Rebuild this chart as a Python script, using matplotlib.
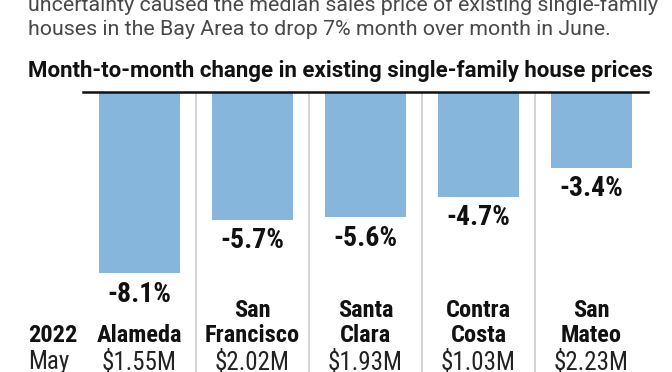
import matplotlib
matplotlib.use('Agg')
import matplotlib.pyplot as plt
import matplotlib.transforms as mtransforms
import numpy as np

# data
counties_top = ['', 'San', 'Santa', 'Contra', 'San']
counties_bottom = ['Alameda', 'Francisco', 'Clara', 'Costa', 'Mateo']
changes = [-8.1, -5.7, -5.6, -4.7, -3.4]
may_prices = ['$1.55M', '$2.02M', '$1.93M', '$1.03M', '$2.23M']

intro_lines = [
    'uncertainty caused the median sales price of existing single-family',
    'houses in the Bay Area to drop 7% month over month in June.',
]
heading = 'Month-to-month change in existing single-family house prices'

sans = ['Roboto Condensed', 'Roboto', 'DejaVu Sans']
body = ['Roboto', 'DejaVu Sans']
W, H = 672, 372

fig = plt.figure(figsize=(W / 100, H / 100), dpi=100)
fig.patch.set_facecolor('white')
renderer = fig.canvas.get_renderer()


def fit_group(texts, sample, target_px):
    # the reference uses a condensed face; size the group so one sample matches its width
    w = sample.get_window_extent(renderer).width
    k = target_px / w
    for t in texts:
        t.set_fontsize(t.get_fontsize() * k)


# intro + heading
intro = [
    fig.text(28 / W, 1 - 11 / H, intro_lines[0], family=body,
             fontsize=15, color='#484848', va='baseline', ha='left'),
    fig.text(28 / W, 1 - 35 / H, intro_lines[1], family=body,
             fontsize=15, color='#484848', va='baseline', ha='left'),
]
fit_group(intro, intro[1], 584)
head = fig.text(28 / W, 1 - 77 / H, heading, family=body, fontsize=14,
                fontweight='bold', color='#111111', va='baseline', ha='left')
fit_group([head], head, 627)

# bar area
ax = fig.add_axes([83 / W, 0, (648 - 83) / W, (372 - 91.5) / H])
x = np.arange(len(changes))
ax.bar(x, changes, width=0.72, color='#87b6dc', zorder=2)
ax.set_xlim(-0.5, 4.5)
ax.set_ylim(-12.49, 0)
for i in range(len(x) - 1):
    ax.axvline(i + 0.5, color='#c8c8c8', lw=1.1, zorder=1)

for s in ['left', 'right', 'bottom']:
    ax.spines[s].set_visible(False)
ax.spines['top'].set_linewidth(1.8)
ax.spines['top'].set_color('#111111')
ax.spines['top'].set_zorder(3)
ax.set_xticks([])
ax.set_yticks([])

pct = []
for xi, v in zip(x, changes):
    pct.append(ax.annotate(f'{v:.1f}%', (xi, v), xytext=(0, -15),
                           textcoords='offset points', ha='center', va='center',
                           family=sans, fontsize=18, fontweight='bold',
                           color='#111111'))
fit_group(pct, pct[1], 64)

trans = mtransforms.blended_transform_factory(ax.transData, fig.transFigure)
names = []
prices = []
for xi, top, bottom, price in zip(x, counties_top, counties_bottom, may_prices):
    names.append(ax.text(xi, 55 / H, top, transform=trans, ha='center',
                         va='baseline', family=sans, fontsize=18,
                         fontweight='bold', color='#111111', clip_on=False))
    names.append(ax.text(xi, 30 / H, bottom, transform=trans, ha='center',
                         va='baseline', family=sans, fontsize=18,
                         fontweight='bold', color='#111111', clip_on=False))
    prices.append(ax.text(xi, 3 / H, price, transform=trans, ha='center',
                          va='baseline', family=sans, fontsize=18,
                          color='#222222', clip_on=False))

names.append(fig.text(28 / W, 30 / H, '2022', family=sans, fontsize=18,
                      fontweight='bold', color='#111111', va='baseline', ha='left'))
prices.append(fig.text(28 / W, 3 / H, 'May', family=sans, fontsize=18,
                       color='#222222', va='baseline', ha='left'))
fit_group(names, names[3], 95)
fit_group(prices, prices[1], 75)

fig.savefig('out.png', dpi=100)
